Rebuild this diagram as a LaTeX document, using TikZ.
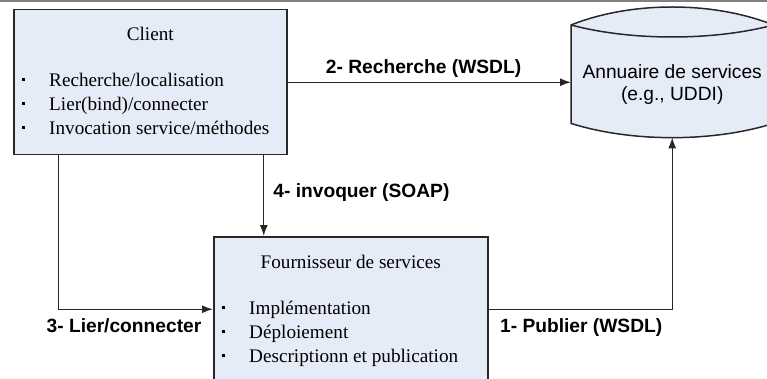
\documentclass[tikz,border=0pt]{standalone}
\usepackage{fontspec}
\setmainfont{Liberation Serif}
\newfontfamily\arialfont{Liberation Sans}
\usetikzlibrary{arrows.meta}
\definecolor{boxfill}{RGB}{230,236,247}
\definecolor{boxline}{RGB}{40,40,40}

\begin{document}
\begin{tikzpicture}[x=1pt, y=-1pt,
        actor/.style={draw=boxline, fill=boxfill, line width=1.5pt, inner sep=0, anchor=north west},
        boxtext/.style={inner sep=0, font=\fontsize{19.2}{24}\selectfont},
        dirtext/.style={inner sep=0, font=\arialfont\fontsize{19.2}{24}\selectfont},
        steplabel/.style={inner sep=0, font=\arialfont\bfseries\fontsize{19.2}{24}\selectfont},
        conn/.style={draw=black!85, line width=1.3pt, -{Latex[length=11pt,width=8pt]}}]
        \useasboundingbox (0,0) rectangle (767,379);
        \clip (0,0) rectangle (767,379);
        \draw[black!50, line width=2pt] (0,1) -- (767,1);
        \node[actor, minimum width=273pt, minimum height=145pt] (client) at (13,9) {};
        \node[actor, minimum width=274pt, minimum height=145pt] (fournisseur) at (213,236) {};
        \node[minimum width=202pt, minimum height=112pt, inner sep=0, anchor=north west] (annuaire) at (571,25) {};
        \filldraw[fill=boxfill, draw=boxline, line width=1.5pt] (annuaire.north west)
            .. controls +(60,-24) and +(-60,-24) .. (annuaire.north east)
            -- ([shift={(0,-14)}]annuaire.south east)
            .. controls +(-60,19) and +(60,19) .. ([shift={(0,-14)}]annuaire.south west) -- cycle;
        \draw[boxline, line width=1.5pt] (annuaire.north east)
            .. controls +(-60,16) and +(60,16) .. (annuaire.north west);
        \node[dirtext, anchor=base] (annuairename) at ([shift={(0,54)}]annuaire.north) {Annuaire de services};
        \node[dirtext, anchor=base] (annuaireex) at ([shift={(0,76)}]annuaire.north) {(e.g., UDDI)};
        \node[boxtext, anchor=base] (clienttitle) at ([shift={(0,32)}]client.north) {Client};
        \foreach \txt [count=\i] in {{Recherche/localisation},{Lier(bind)/connecter},{Invocation service/méthodes}} {
            \node[boxtext, anchor=base west] (clientitem\i) at ([shift={(36,54+24*\i)}]client.north west) {\txt};
            \fill ([shift={(8.5,45.5+24*\i)}]client.north west) rectangle +(3,3);
        }
        \node[boxtext, anchor=base] (fournisseurtitle) at ([shift={(0,32)}]fournisseur.north) {Fournisseur de services};
        \foreach \txt [count=\i] in {{Implémentation},{Déploiement},{Descriptionn et publication}} {
            \node[boxtext, anchor=base west] (fournisseuritem\i) at ([shift={(36,54+24*\i)}]fournisseur.north west) {\txt};
            \fill ([shift={(8.5,45.5+24*\i)}]fournisseur.north west) rectangle +(3,3);
        }
        \draw[conn] (client.east) -- (client.east -| annuaire.west)
            node[steplabel, pos=0.48, anchor=base, yshift=8.5pt] {2- Recherche (WSDL)};
        \coordinate (invoke) at ([shift={(113.5,0)}]client.south);
        \draw[conn] (invoke) -- (invoke |- fournisseur.north)
            node[steplabel, midway, anchor=base west, xshift=9pt, yshift=-2pt] {4- invoquer (SOAP)};
        \coordinate (bind) at ([shift={(-91.5,0)}]client.south);
        \draw[conn] (bind) |- (fournisseur.west)
            node[steplabel, pos=1, anchor=base east, xshift=-11pt, yshift=-23.5pt] {3- Lier/connecter};
        \draw[conn] (fournisseur.east) -| (annuaire.south)
            node[steplabel, pos=0, anchor=base west, xshift=11pt, yshift=-23.5pt] {1- Publier (WSDL)};
    \end{tikzpicture}
\end{document}
